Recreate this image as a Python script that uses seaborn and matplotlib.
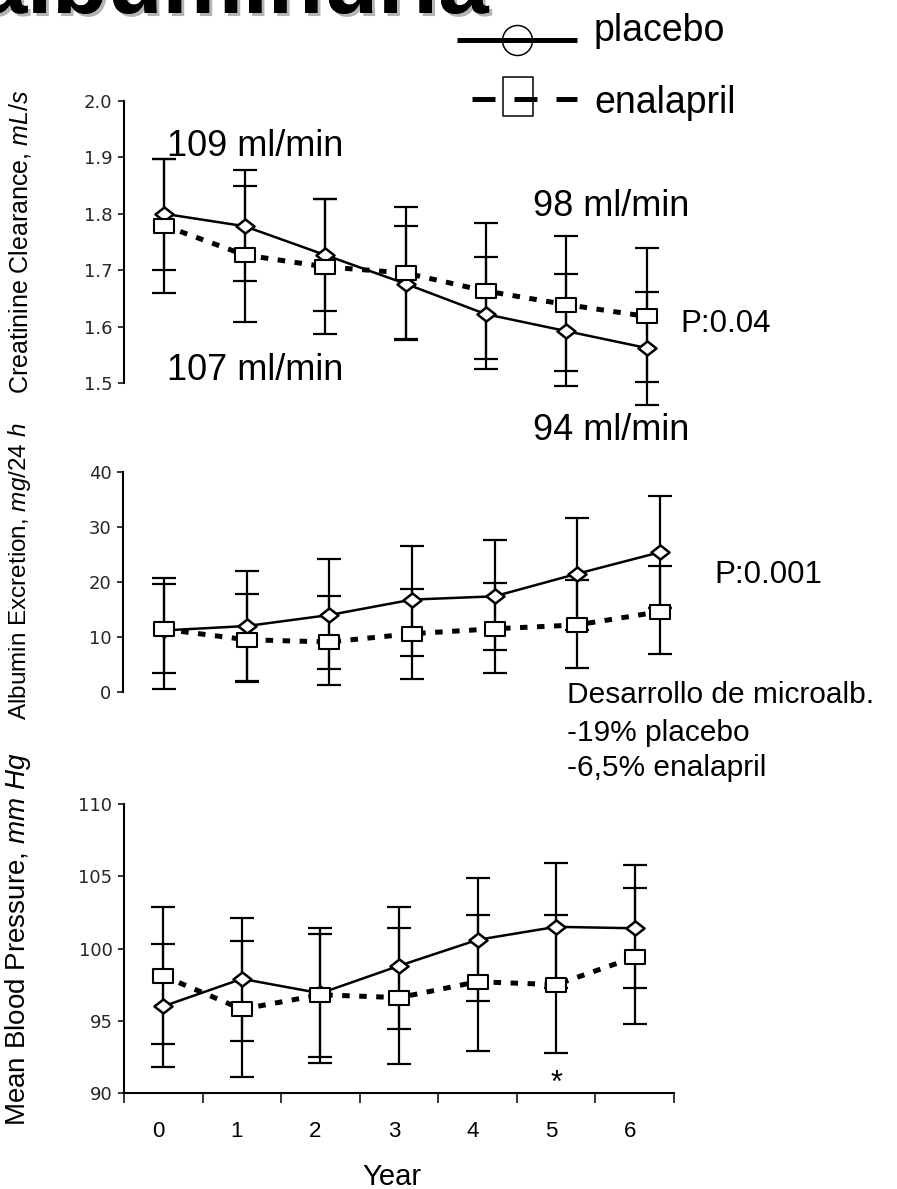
import numpy as np
import matplotlib
matplotlib.use("Agg")
import matplotlib.pyplot as plt
import seaborn as sns
from matplotlib.path import Path
from matplotlib.transforms import ScaledTranslation
import matplotlib.patheffects as pe

# ---------------------------------------------------------------- data
years = [0, 1, 2, 3, 4, 5, 6]
year_labels = ["0", "1", "2", "3", "4", "5", "6"]

# Creatinine clearance (mL/s): mean and error-bar ends
crcl_placebo = [1.800, 1.778, 1.727, 1.676, 1.622, 1.592, 1.562]
crcl_placebo_lo = [1.700, 1.680, 1.627, 1.578, 1.525, 1.494, 1.461]
crcl_placebo_hi = [1.898, 1.878, 1.827, 1.778, 1.724, 1.693, 1.662]
crcl_enalapril = [1.779, 1.727, 1.706, 1.695, 1.663, 1.639, 1.618]
crcl_enalapril_lo = [1.660, 1.609, 1.586, 1.576, 1.543, 1.522, 1.502]
crcl_enalapril_hi = [1.898, 1.850, 1.826, 1.812, 1.783, 1.761, 1.739]
crcl_ticks = [1.5, 1.6, 1.7, 1.8, 1.9, 2.0]
crcl_ticklabels = ["1.5", "1.6", "1.7", "1.8", "1.9", "2.0"]

# Albumin excretion (mg/24 h)
alb_placebo = [11.2, 12.0, 14.0, 16.8, 17.4, 21.5, 25.4]
alb_placebo_lo = [0.6, 2.0, 4.1, 6.6, 7.6, 11.3, 15.2]
alb_placebo_hi = [20.7, 22.0, 24.2, 26.6, 27.7, 31.7, 35.6]
alb_enalapril = [11.4, 9.5, 9.1, 10.6, 11.5, 12.2, 14.6]
alb_enalapril_lo = [3.5, 1.9, 1.3, 2.3, 3.5, 4.4, 7.0]
alb_enalapril_hi = [19.6, 17.8, 17.4, 18.7, 19.8, 20.4, 22.9]
alb_ticks = [0, 10, 20, 30, 40]
alb_ticklabels = ["0", "10", "20", "30", "40"]

# Mean blood pressure (mm Hg)
mbp_placebo = [96.0, 97.9, 96.9, 98.8, 100.6, 101.5, 101.4]
mbp_placebo_lo = [91.8, 93.6, 92.5, 94.4, 96.4, 97.3, 97.3]
mbp_placebo_hi = [100.3, 102.1, 101.0, 102.9, 104.9, 105.9, 105.8]
mbp_enalapril = [98.1, 95.8, 96.8, 96.6, 97.7, 97.5, 99.4]
mbp_enalapril_lo = [93.4, 91.1, 92.1, 92.0, 92.9, 92.8, 94.8]
mbp_enalapril_hi = [102.9, 100.5, 101.4, 101.4, 102.3, 102.3, 104.2]
mbp_ticks = [90, 95, 100, 105, 110]
mbp_ticklabels = ["90", "95", "100", "105", "110"]

# ---------------------------------------------------------------- style
W, H, DPI = 897, 1189, 100
PT = 72.0 / DPI  # points per pixel

sns.set_theme(style="white")
plt.rcParams["font.family"] = ["Liberation Sans", "DejaVu Sans"]
plt.rcParams["mathtext.fontset"] = "custom"
plt.rcParams["mathtext.rm"] = "Liberation Sans"
plt.rcParams["mathtext.it"] = "Liberation Sans:italic"

fig = plt.figure(figsize=(W / DPI, H / DPI), dpi=DPI)
fig.patch.set_facecolor("white")


def px_axes(left, top, right, bottom):
    """Axes placed by pixel box (origin top-left)."""
    return fig.add_axes([left / W, 1 - bottom / H, (right - left) / W, (bottom - top) / H])


# wide diamond and wide box markers
DIAMOND = Path([(-1, 0), (0, 0.78), (1, 0), (0, -0.78), (-1, 0)],
               [Path.MOVETO, Path.LINETO, Path.LINETO, Path.LINETO, Path.CLOSEPOLY])
BOX = Path([(-1, -0.74), (1, -0.74), (1, 0.74), (-1, 0.74), (-1, -0.74)],
           [Path.MOVETO, Path.LINETO, Path.LINETO, Path.LINETO, Path.CLOSEPOLY])
TALL_BOX = Path([(-0.79, -1), (0.79, -1), (0.79, 1), (-0.79, 1), (-0.79, -1)],
                [Path.MOVETO, Path.LINETO, Path.LINETO, Path.LINETO, Path.CLOSEPOLY])
DOTTED = (0, (1.5, 1.9))


def draw_panel(ax, pl, pl_lo, pl_hi, en, en_lo, en_hi):
    for mean, lo, hi in ((pl, pl_lo, pl_hi), (en, en_lo, en_hi)):
        m = np.asarray(mean, float)
        err = [m - np.asarray(lo, float), np.asarray(hi, float) - m]
        cont = ax.errorbar(years, m, yerr=err, fmt="none", ecolor="black",
                           elinewidth=1.6, capsize=8.3, capthick=1.6, zorder=2)
        for art in cont.get_children():
            art.set_clip_on(False)
    sns.lineplot(x=years, y=pl, ax=ax, color="black", linewidth=1.8,
                 marker=DIAMOND, markersize=13, markerfacecolor="white",
                 markeredgecolor="black", markeredgewidth=1.8,
                 errorbar=None, zorder=3, clip_on=False)
    sns.lineplot(x=years, y=en, ax=ax, color="black", linewidth=3.6,
                 linestyle=DOTTED, marker=BOX, markersize=13.7,
                 markerfacecolor="white", markeredgecolor="black",
                 markeredgewidth=1.5, errorbar=None, zorder=4, clip_on=False)


def style_axis(ax, ylim, ticks, ticklabels, ylabel, ylabel_size, label_px, box, bottom):
    left, top, right, bot = box
    ax.set_xlim(-0.5, 6.5)
    ax.set_ylim(*ylim)
    ax.set_yticks(ticks)
    ax.set_yticklabels(ticklabels)
    ax.tick_params(axis="y", direction="out", length=4.3, width=1.1, color="black",
                   pad=4, labelsize=13, labelfontfamily="DejaVu Sans", left=True)
    for s in ("top", "right"):
        ax.spines[s].set_visible(False)
    ax.spines["left"].set_linewidth(1.5)
    ax.spines["left"].set_color("black")
    if bottom:
        ax.spines["bottom"].set_linewidth(1.5)
        ax.spines["bottom"].set_color("black")
    else:
        ax.spines["bottom"].set_visible(False)
        ax.set_xticks([])
    ax.set_facecolor("none")
    ax.set_ylabel(ylabel, fontsize=ylabel_size, color="black")
    lx, ly = label_px
    ax.yaxis.set_label_coords((lx - left) / (right - left), (bot - ly) / (bot - top))


box1 = (124, 101, 687, 383)
box2 = (123, 472, 701, 692)
box3 = (124, 804, 674, 1093)
ax1 = px_axes(*box1)
ax2 = px_axes(*box2)
ax3 = px_axes(*box3)

draw_panel(ax1, crcl_placebo, crcl_placebo_lo, crcl_placebo_hi,
           crcl_enalapril, crcl_enalapril_lo, crcl_enalapril_hi)
draw_panel(ax2, alb_placebo, alb_placebo_lo, alb_placebo_hi,
           alb_enalapril, alb_enalapril_lo, alb_enalapril_hi)
draw_panel(ax3, mbp_placebo, mbp_placebo_lo, mbp_placebo_hi,
           mbp_enalapril, mbp_enalapril_lo, mbp_enalapril_hi)

style_axis(ax1, (1.5, 2.0), crcl_ticks, crcl_ticklabels,
           r"Creatinine Clearance, $\mathit{mL/s}$", 18, (33, 242), box1, False)
style_axis(ax2, (0, 40), alb_ticks, alb_ticklabels,
           r"Albumin Excretion, $\mathit{mg/24\ h}$", 17.5, (33, 571), box2, False)
style_axis(ax3, (90, 110), mbp_ticks, mbp_ticklabels,
           r"Mean Blood Pressure, $\mathit{mm\ Hg}$", 20, (33, 939), box3, True)

# year axis: ticks between years, labels under each year
ax3.set_xticks(np.arange(-0.5, 7.0, 1.0))
ax3.set_xticklabels([])
ax3.set_xticks(years, minor=True)
ax3.set_xticklabels(year_labels, minor=True)
ax3.tick_params(axis="x", which="major", direction="out", length=7, width=1.1,
                color="black", bottom=True)
ax3.tick_params(axis="x", which="minor", length=0, pad=20, labelsize=16,
                labelcolor="black", bottom=True)
# year numbers sit a little left of their points
shift = ScaledTranslation(-5 / DPI, 0, fig.dpi_scale_trans)
for tick in ax3.xaxis.get_minor_ticks():
    tick.label1.set_transform(tick.label1.get_transform() + shift)
ax3.set_xlabel("Year", fontsize=21, color="black")
ax3.xaxis.set_label_coords((392 - 124) / 550, (1093 - 1163) / 289)
ax3.text(5, 90.6, "*", ha="center", va="center", fontsize=22, color="black")

# ---------------------------------------------------------------- overlay: title, legend, notes
lay = fig.add_axes([0, 0, 1, 1], zorder=10)
lay.set_xlim(0, W)
lay.set_ylim(H, 0)
lay.axis("off")

lay.text(488, 13, "Microalbuminuria", fontsize=65, fontweight="bold", color="black",
         ha="right", va="baseline",
         path_effects=[pe.withSimplePatchShadow(offset=(2.2, -2.2), shadow_rgbFace="#b4b4b4",
                                                alpha=1.0),
                       pe.Normal()])

# legend keys
lay.plot([457, 577], [40, 40], color="black", linewidth=5 * PT, solid_capstyle="butt")
lay.plot([517], [40], marker="o", markersize=30 * PT, markerfacecolor="none",
         markeredgecolor="black", markeredgewidth=1.5 * PT, linestyle="none")
lay.plot([457, 577], [99, 99], color="black", linewidth=5 * PT,
         linestyle=(27 / 5, (23 / 5, 19 / 5)), dash_capstyle="butt")
lay.plot([517.5], [95.5], marker=TALL_BOX, markersize=39 * PT, markerfacecolor="none",
         markeredgecolor="black", markeredgewidth=1.5 * PT, linestyle="none")
lay.text(594, 41, "placebo", fontsize=27, ha="left", va="baseline", color="black")
lay.text(594, 113, "enalapril", fontsize=27, ha="left", va="baseline", color="black")

# annotations
note_kw = dict(ha="left", va="baseline", color="black")
lay.text(167, 156, "109 ml/min", fontsize=26, **note_kw)
lay.text(533, 216, "98 ml/min", fontsize=26, **note_kw)
lay.text(680, 332, "P:0.04", fontsize=22.5, **note_kw)
lay.text(167, 380, "107 ml/min", fontsize=26, **note_kw)
lay.text(533, 440, "94 ml/min", fontsize=26, **note_kw)
lay.text(714, 583, "P:0.001", fontsize=22.5, **note_kw)
lay.text(567, 703, "Desarrollo de microalb.", fontsize=21.5, **note_kw)
lay.text(567, 741, "-19% placebo", fontsize=21.5, **note_kw)
lay.text(567, 776, "-6,5% enalapril", fontsize=21.5, **note_kw)

fig.savefig("out.png", dpi=DPI, facecolor="white")
